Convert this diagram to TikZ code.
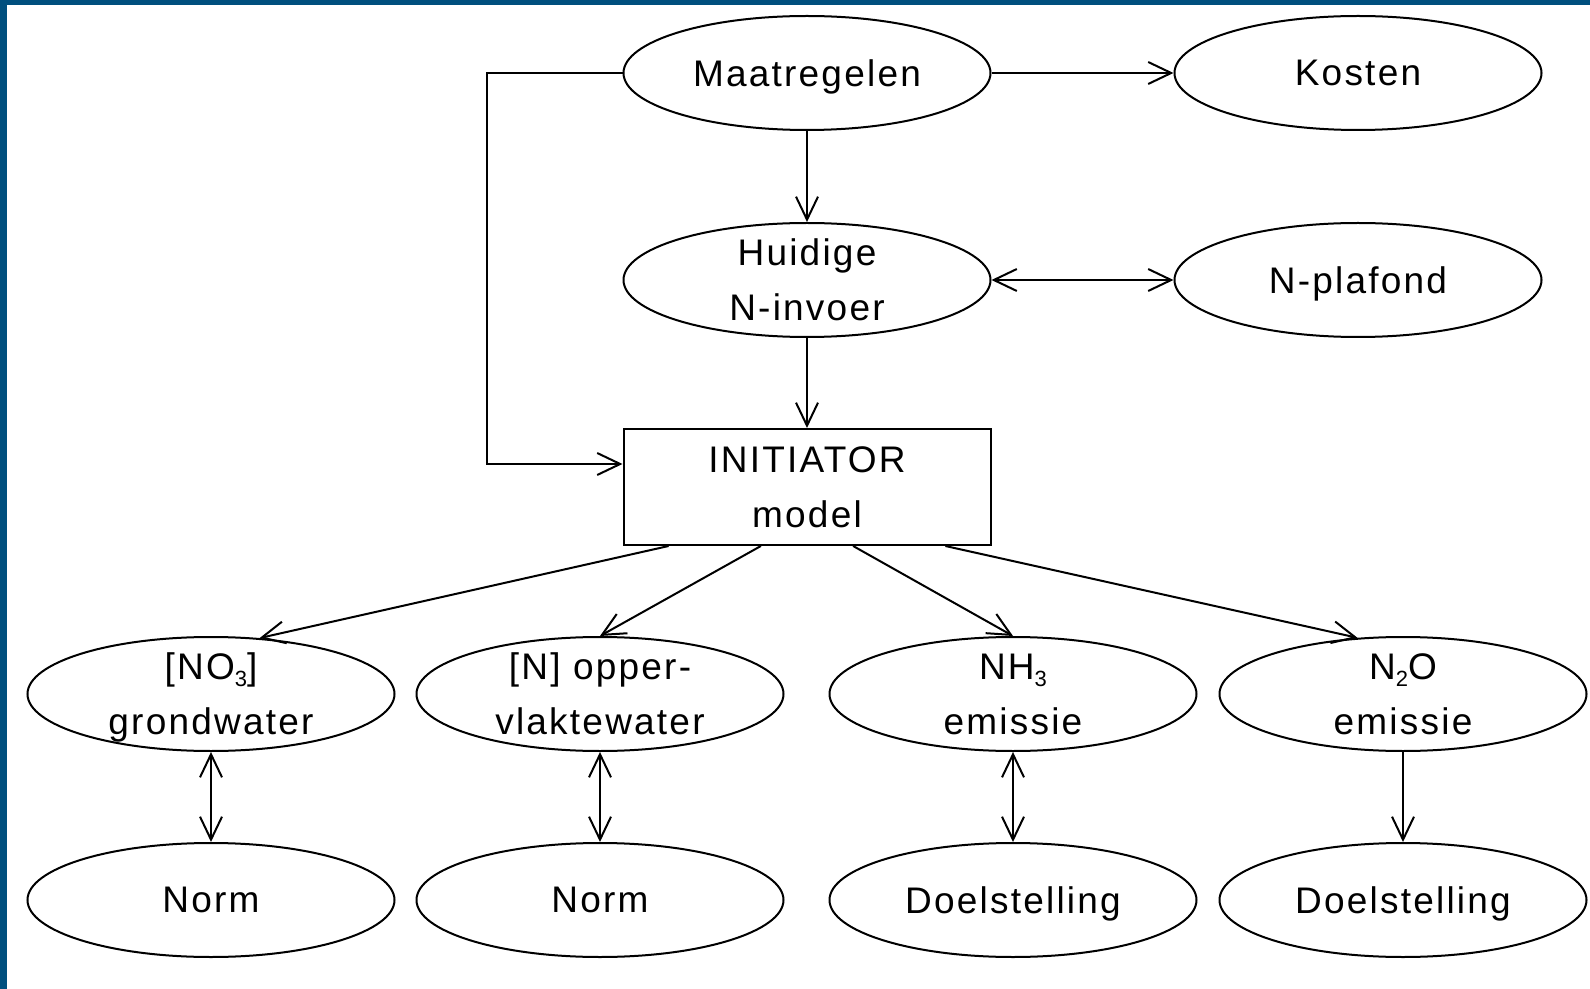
\documentclass[tikz,border=0pt]{standalone}
\usepackage{fontspec}
\setmainfont{Liberation Sans}[LetterSpace=6]
\usepackage{tikz}
\usetikzlibrary{shapes.geometric,arrows.meta,calc}
\definecolor{frameblue}{RGB}{0,79,126}
\newcommand{\lowidx}[1]{\raisebox{-3.5pt}{\fontsize{11}{11}\selectfont #1}}

\begin{document}
\begin{tikzpicture}[x=0.5pt, y=-0.5pt, line width=1pt,
  >={Straight Barb[length=11.5pt,width=11pt]},
  oval/.style={ellipse, draw, inner xsep=0pt, inner ysep=-8pt, text depth=0pt,
    minimum width=183.5pt, minimum height=57pt, align=center,
    font=\fontsize{18.5}{27.5}\selectfont},
  modelbox/.style={rectangle, draw, inner sep=0pt, minimum width=183.5pt,
    minimum height=58pt, align=center, font=\fontsize{18.5}{27.5}\selectfont}]

  \useasboundingbox (0,0) rectangle (1590,989);
  % frame
  \fill[frameblue] (0,0) rectangle (1590,5);
  \fill[frameblue] (0,0) rectangle (7,989);

  % top
  \node[oval] (maat) at (807,73) {Maatregelen};
  \node[oval] (kosten) at (1358,73) {Kosten};
  \node[oval] (huidig) at (807,280) {Huidige\\N-invoer};
  \node[oval] (plafond) at (1358,280) {N-plafond};
  \node[modelbox] (init) at (807,487) {INITIATOR\\model};

  \draw[->] (maat) -- (kosten);
  \draw[->] (maat) -- (huidig);
  \draw[<->] (huidig) -- (plafond);
  \draw[->] (huidig) -- (init);
  \coordinate (bend) at (487,464);
  \draw[->] (maat.west) -| (bend) -- (bend -| init.west);

  % emissies
  \node[oval] (no3) at (211,694) {[NO\lowidx{3}]\\grondwater};
  \node[oval] (nopp) at (600,694) {[N] opper-\\vlaktewater};
  \node[oval] (nh3) at (1013,694) {NH\lowidx{3}\\emissie};
  \node[oval] (n2o) at (1403,694) {N\lowidx{2}O\\emissie};

  \draw[->] ($(init.south west)!0.125!(init.south east)$) -- (no3.49);
  \draw[->] ($(init.south west)!0.375!(init.south east)$) -- (nopp.north);
  \draw[->] ($(init.south west)!0.625!(init.south east)$) -- (nh3.north);
  \draw[->] ($(init.south west)!0.875!(init.south east)$) -- (n2o.129);

  % normen
  \node[oval] (norm1) at (211,900) {Norm};
  \node[oval] (norm2) at (600,900) {Norm};
  \node[oval] (doel1) at (1013,900) {Doelstelling};
  \node[oval] (doel2) at (1403,900) {Doelstelling};

  \draw[<->] (no3) -- (norm1);
  \draw[<->] (nopp) -- (norm2);
  \draw[<->] (nh3) -- (doel1);
  \draw[->] (n2o) -- (doel2);

\end{tikzpicture}
\end{document}
